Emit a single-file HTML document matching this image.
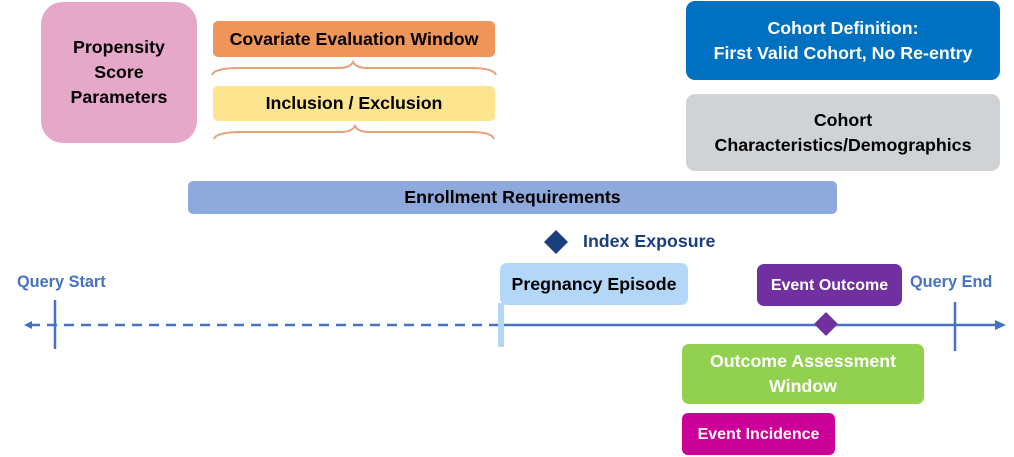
<!DOCTYPE html>
<html><head><style>
body{margin:0;width:1014px;height:457px;background:#fff;position:relative;overflow:hidden;font-family:"Liberation Sans",sans-serif;font-weight:bold}
.b{position:absolute;display:flex;align-items:center;justify-content:center;text-align:center;box-sizing:border-box;font-size:17.8px;line-height:25px;white-space:nowrap}
.t{position:absolute;font-size:16px;white-space:nowrap}
</style></head><body>
<svg width="1014" height="457" style="position:absolute;left:0;top:0">
<path d="M212 75 Q214 68 240 68 L338 68 Q350 68 353 62 Q356 68 368 68 L470 68 Q494 68 496 75" fill="none" stroke="#e8a07a" stroke-width="2"/>
<path d="M214 139 Q216 132 242 132 L340 132 Q352 132 355 126 Q358 132 370 132 L470 132 Q492 132 494 139" fill="none" stroke="#e8a07a" stroke-width="2"/>
<line x1="30" y1="325" x2="500" y2="325" stroke="#4472c4" stroke-width="2.5" stroke-dasharray="10,7"/>
<line x1="500" y1="325" x2="997" y2="325" stroke="#4472c4" stroke-width="2.5"/>
<polygon points="1006,325 995,320 995,330" fill="#4472c4"/>
<polygon points="24,325 32,321 32,329" fill="#4472c4"/>
<line x1="55" y1="300" x2="55" y2="349" stroke="#4472c4" stroke-width="2.5"/>
<line x1="955" y1="302" x2="955" y2="351" stroke="#4472c4" stroke-width="2.5"/>
<rect x="498" y="303" width="6" height="44" fill="#b4d7f8"/>
<polygon points="556,230 568,242 556,254 544,242" fill="#1a3f7f"/>
<polygon points="826,312 838,324 826,336 814,324" fill="#7030a0"/>
</svg>
<div class="b" style="left:41px;top:2px;width:156px;height:141px;background:#e6a8c8;border-radius:22px">Propensity<br>Score<br>Parameters</div>
<div class="b" style="left:213px;top:21px;width:282px;height:36px;background:#f0955a;border-radius:5px">Covariate Evaluation Window</div>
<div class="b" style="left:213px;top:86px;width:282px;height:35px;background:#fde58f;border-radius:5px">Inclusion / Exclusion</div>
<div class="b" style="left:686px;top:1px;width:314px;height:79px;background:#0070c0;border-radius:9px;color:#fff">Cohort Definition:<br>First Valid Cohort, No Re-entry</div>
<div class="b" style="left:686px;top:94px;width:314px;height:77px;background:#d0d3d6;border-radius:9px">Cohort<br>Characteristics/Demographics</div>
<div class="b" style="left:188px;top:181px;width:649px;height:33px;background:#8eaadc;border-radius:5px">Enrollment Requirements</div>
<div class="t" style="left:583px;top:231px;color:#1a3f7f;font-size:17.8px">Index Exposure</div>
<div class="t" style="left:17px;top:273px;color:#4472c4;font-size:16.3px">Query Start</div>
<div class="t" style="left:910px;top:273px;color:#4472c4;font-size:16.3px">Query End</div>
<div class="b" style="left:500px;top:263px;width:188px;height:42px;background:#b4d7f8;border-radius:7px">Pregnancy Episode</div>
<div class="b" style="left:757px;top:264px;width:145px;height:42px;background:#7030a0;border-radius:7px;color:#fff;font-size:16px">Event Outcome</div>
<div class="b" style="left:682px;top:344px;width:242px;height:60px;background:#92d050;border-radius:7px;color:#fff">Outcome Assessment<br>Window</div>
<div class="b" style="left:682px;top:413px;width:153px;height:42px;background:#cc0099;border-radius:6px;color:#fff;font-size:16px">Event Incidence</div>
</body></html>
